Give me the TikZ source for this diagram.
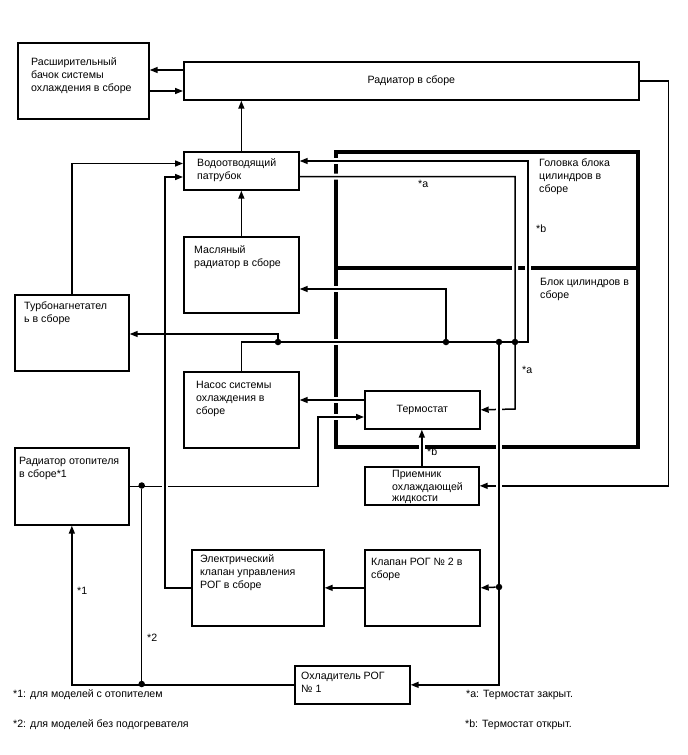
\documentclass[tikz,border=0pt]{standalone}
\usepackage{fontspec}
\setmainfont{Liberation Sans}
\usetikzlibrary{arrows.meta, positioning}
\newcommand{\unitfont}{\fontsize{10.6}{12.7}\selectfont}
\pgfdeclarelayer{back}
\pgfdeclarelayer{wires}
\pgfsetlayers{back,wires,main}

\begin{document}
\begin{tikzpicture}[
  x=1pt, y=-1pt,
  unit/.style={draw, line width=1.7pt, fill=white, anchor=north west, inner sep=0pt, font=\unitfont},
  txt/.style={anchor=north west, align=left, inner sep=0pt, font=\unitfont},
  note/.style={anchor=base west, inner sep=0pt, font=\unitfont},
  dot/.style={circle, fill, inner sep=0pt, minimum size=6.5pt},
  wire/.style={line width=1.5pt},
  arr/.style={wire, -{Triangle[length=8pt, width=6pt]}},
  halo/.style={preaction={draw=white, line width=6pt, -}},
  blockline/.style={line width=3.3pt}
]
\useasboundingbox (0,0) rectangle (688,755);

% units
\node[unit, minimum width=131pt, minimum height=76pt] (tank) at (17,42) {};
\node[unit, minimum width=455pt, minimum height=38pt] (radiator) at (183,61) {Радиатор в сборе};
\node[unit, minimum width=115pt, minimum height=38pt] (outlet) at (183,151) {};
\node[unit, minimum width=115pt, minimum height=76pt] (oilcool) at (183,236) {};
\node[unit, minimum width=114pt, minimum height=76pt] (turbo) at (14,294) {};
\node[unit, minimum width=115pt, minimum height=76pt] (pump) at (183,371) {};
\node[unit, minimum width=114pt, minimum height=77pt] (heater) at (14,447) {};
\node[unit, minimum width=115pt, minimum height=38pt] (thermo) at (364,390) {Термостат};
\node[unit, minimum width=114pt, minimum height=38pt] (receiver) at (364,466) {};
\node[unit, minimum width=132pt, minimum height=76pt] (elvalve) at (191,549) {};
\node[unit, minimum width=115pt, minimum height=76pt] (egrvalve) at (364,549) {};
\node[unit, minimum width=115pt, minimum height=38pt] (egrcool) at (294,665) {};

% texts in the units
\node[txt] (tank-t) at (31,56.6) {\strut Расширительный\\бачок системы\\охлаждения в сборе};
\node[txt] (outlet-t) at (197,157.9) {\strut Водоотводящий\\патрубок};
\node[txt] (oilcool-t) at (194,244.5) {\strut Масляный\\радиатор в сборе};
\node[txt] (turbo-t) at (24,300.6) {\strut Турбонагнетател\\ь в сборе};
\node[txt] (pump-t) at (196,379.6) {\strut Насос системы\\охлаждения в\\сборе};
\node[txt] (heater-t) at (19,455.3) {\strut Радиатор отопителя\\в сборе*1};
\node[txt, font=\fontsize{10.6}{11}\selectfont] (receiver-t) at (392,470) {\strut Приемник\\охлаждающей\\жидкости};
\node[txt] (elvalve-t) at (200,553.6) {\strut Электрический\\клапан управления\\РОГ в сборе};
\node[txt] (egrvalve-t) at (371,556.3) {\strut Клапан РОГ № 2 в\\сборе};
\node[txt] (egrcool-t) at (301,670.6) {\strut Охладитель РОГ\\№ 1};
\node[txt] (head-t) at (539,157.9) {\strut Головка блока\\цилиндров в\\сборе};
\node[txt] (block-t) at (540,276.9) {\strut Блок цилиндров в\\сборе};

% engine block
\begin{pgfonlayer}{back}
\draw[blockline] (336,152) rectangle (638,447);
\draw[blockline] (336,268) -- (638,268);
\end{pgfonlayer}

% junctions
\node[dot] (jt) at (278,342) {};
\node[dot] (jo) at (446,342) {};
\node[dot] (jr) at (499,342) {};
\node[dot] (ja) at (515,342) {};
\node[dot] (jv) at (499,587) {};
\node[dot] (jh) at (141.7,485.5) {};
\node[dot] (jb) at (141.7,684) {};

% coolant lines
\begin{pgfonlayer}{wires}
\draw[arr] (radiator.west |- 0,70) -- (tank.east |- 0,70);
\draw[arr] (tank.east |- 0,91) -- (radiator.west |- 0,91);
\draw[arr] (outlet.north) -- (outlet.north |- radiator.south);
\draw[arr] (oilcool.north) -- (outlet.south);
\draw[arr] (turbo.north) |- (outlet.west |- 0,163.5);
\draw[arr, halo] (heater.east) -| (318,417) -- (thermo.west |- 0,417);
\draw[arr, halo] (elvalve.west) -| (165,177) -- (outlet.west |- 0,177);
\draw[arr] (jt) |- (turbo.east |- 0,334);
\draw[arr, halo] (thermo.west |- 0,400) -- (pump.east |- 0,400);
\draw[arr, halo] (pump.north) |- (528,342) -- (528,161) -- (outlet.east |- 0,161);
\draw[arr, halo] (outlet.east |- 0,176.5) -| (515,409) -- (thermo.east);
\draw[arr, halo] (jo) |- (oilcool.east |- 0,289);
\draw[arr] (radiator.east) -- ++(29,0) |- (receiver.east);
\draw[arr, halo] (jr) |- (egrcool.east);
\draw[arr] (jv) -- (egrvalve.east);
\draw[arr] (egrvalve.west) -- (elvalve.east);
\draw[arr] (egrcool.west) -| (heater.south);
\draw[wire] (jb) -- (jh);
\draw[arr, halo] (receiver.north) -- (receiver.north |- thermo.south);
\end{pgfonlayer}

% marks
\node[note] (a1) at (418,187.5) {*a};
\node[note] (b1) at (536,232.5) {*b};
\node[note] (a2) at (522,373.5) {*a};
\node[note] (b2) at (427,455.8) {*b};
\node[note] (n1) at (77,594) {*1};
\node[note] (n2) at (147,641) {*2};

% footnotes
\node[note] (fn1) at (13,697) {*1: для моделей с отопителем};
\node[note] (fn2) at (13,727.5) {*2: для моделей без подогревателя};
\node[note] (fna) at (466,697) {*a: Термостат закрыт.};
\node[note] (fnb) at (465,727.5) {*b: Термостат открыт.};
\end{tikzpicture}
\end{document}
